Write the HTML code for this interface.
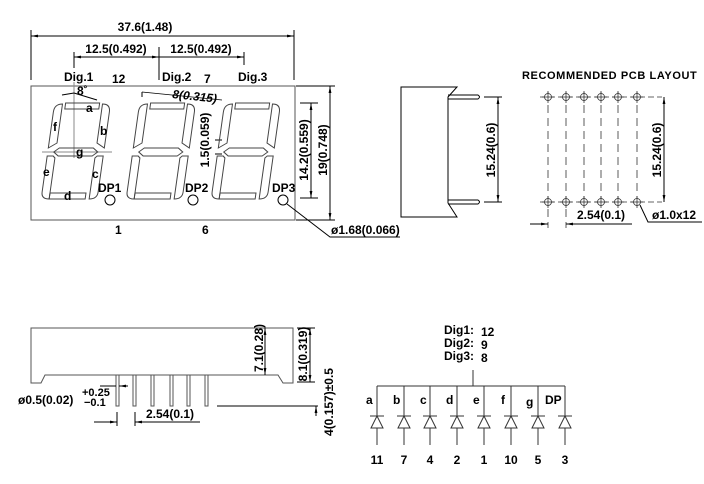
<!DOCTYPE html>
<html><head><meta charset="utf-8"><style>
html,body{margin:0;padding:0;background:#fff;}
svg{display:block;}
text{font-family:"Liberation Sans",sans-serif;fill:#000;font-weight:bold;}
</style></head><body>
<svg width="704" height="484" viewBox="0 0 704 484" xmlns="http://www.w3.org/2000/svg">
<defs>
<marker id="ar" viewBox="0 0 10 10" refX="10" refY="5" markerWidth="7" markerHeight="7" orient="auto-start-reverse"><path d="M0,3 L10,5 L0,7 Z" fill="#000"/></marker>
<g id="dig" fill="none" stroke="#444" stroke-width="1">
<rect x="13" y="-97" width="34" height="6"/>
<rect x="10" y="-7" width="36" height="6"/>
<path d="M8,-48 L13,-52 L47,-52 L52,-48 L47,-44 L13,-44 Z"/>
<path d="M2,-52 L2,-88 Q2,-96 10,-96 L10,-57 Z"/>
<path d="M58,-52 L58,-88 Q58,-96 50,-96 L50,-57 Z"/>
<path d="M2,-44 L8,-44 L10,-42 L10,-1 Q2,-1 2,-8 Z"/>
<path d="M58,-44 L52,-44 L50,-42 L50,-1 Q58,-1 58,-8 Z"/>
</g>
<g id="hole" fill="#fff" stroke="#333" stroke-width="0.8"><circle r="3.5"/><line x1="-6" y1="0" x2="6" y2="0"/><line x1="0" y1="-6" x2="0" y2="6"/></g>
</defs>
<g stroke="#000" stroke-width="1" fill="none">
<rect x="31" y="86" width="264" height="134" stroke="#555"/>
<line x1="31" y1="36" x2="294" y2="36" marker-start="url(#ar)" marker-end="url(#ar)"/>
<line x1="31" y1="30" x2="31" y2="80"/><line x1="294" y1="30" x2="294" y2="80"/>
<line x1="74" y1="57" x2="159" y2="57" marker-start="url(#ar)" marker-end="url(#ar)"/>
<line x1="159" y1="57" x2="244" y2="57" marker-end="url(#ar)"/>
<line x1="74" y1="52" x2="74" y2="68"/><line x1="159" y1="47" x2="159" y2="80"/><line x1="244" y1="52" x2="244" y2="65"/>
<line x1="74" y1="82" x2="74" y2="158" stroke="#888"/>
<line x1="42" y1="152" x2="112" y2="152" stroke="#888"/>
<line x1="62" y1="95" x2="74" y2="93"/><line x1="74" y1="93" x2="97" y2="100"/>
<line x1="142" y1="92" x2="222" y2="100" stroke-width="0.8"/>
<line x1="142" y1="92" x2="142" y2="97"/>
<line x1="215" y1="140" x2="222" y2="140"/><line x1="215" y1="154" x2="222" y2="154"/>
<line x1="296" y1="86" x2="335" y2="86"/><line x1="296" y1="220" x2="335" y2="220"/>
<line x1="300" y1="103" x2="318" y2="103"/><line x1="300" y1="198" x2="318" y2="198"/>
<line x1="311" y1="103" x2="311" y2="198" marker-start="url(#ar)" marker-end="url(#ar)"/>
<line x1="330" y1="86" x2="330" y2="220" marker-start="url(#ar)" marker-end="url(#ar)"/>
<circle cx="110" cy="200" r="5"/><circle cx="193" cy="200" r="5"/><circle cx="283" cy="200" r="5"/>
<polyline points="287,204 330,237 400,237"/>
<path d="M401,87 L457,87 L448,97 L448,203 L457,217 L401,217 Z"/>
<path d="M448,95 L478,95 Q481,97 478,99 L448,99"/>
<path d="M448,200 L478,200 Q481,202 478,204 L448,204"/>
<line x1="484" y1="97" x2="502" y2="97"/><line x1="484" y1="202" x2="502" y2="202"/>
<line x1="498" y1="97" x2="498" y2="202" marker-start="url(#ar)" marker-end="url(#ar)"/>
<g stroke="#333" stroke-width="0.8">
<line x1="540" y1="97" x2="662" y2="97" stroke-dasharray="6,3"/>
<line x1="540" y1="202" x2="662" y2="202" stroke-dasharray="6,3"/>
<g stroke-dasharray="8,5">
<line x1="548" y1="92" x2="548" y2="228"/><line x1="566" y1="92" x2="566" y2="228"/>
<line x1="584" y1="92" x2="584" y2="208"/><line x1="601" y1="92" x2="601" y2="208"/>
<line x1="618" y1="92" x2="618" y2="208"/><line x1="637" y1="92" x2="637" y2="208"/>
</g>
</g>
<line x1="664" y1="97" x2="664" y2="202" marker-start="url(#ar)" marker-end="url(#ar)"/>
<line x1="530" y1="224" x2="548" y2="224" marker-end="url(#ar)"/>
<line x1="566" y1="224" x2="632" y2="224" marker-start="url(#ar)"/>
<polyline points="640,205 648,222 702,222"/>
<path d="M31,328 L293,328 L293,383 L283,383 L278,375 L45,375 L41,383 L31,383 Z" stroke="#555"/>
<g stroke="#555">
<rect x="116" y="375" width="3" height="31"/><rect x="133" y="375" width="3" height="31"/><rect x="151" y="375" width="3" height="31"/>
<rect x="170" y="375" width="3" height="31"/><rect x="187" y="375" width="3" height="31"/><rect x="205" y="375" width="3" height="31"/>
</g>
<line x1="265" y1="328" x2="265" y2="375" marker-start="url(#ar)" marker-end="url(#ar)"/>
<line x1="297" y1="328" x2="315" y2="328"/><line x1="297" y1="382" x2="315" y2="382"/>
<line x1="310" y1="328" x2="310" y2="382" marker-start="url(#ar)" marker-end="url(#ar)"/>
<line x1="217" y1="406" x2="318" y2="406"/>
<line x1="316" y1="406" x2="316" y2="416" marker-start="url(#ar)"/>
<line x1="100" y1="386" x2="116" y2="386"/>
<line x1="119" y1="386" x2="128" y2="386" marker-start="url(#ar)"/>
<line x1="94" y1="422" x2="117" y2="422" marker-end="url(#ar)"/>
<line x1="117" y1="412" x2="117" y2="426"/><line x1="135" y1="412" x2="135" y2="426"/>
<line x1="135" y1="422" x2="200" y2="422" marker-start="url(#ar)"/>
<g stroke="#333">
<line x1="473" y1="370" x2="473" y2="386"/>
<line x1="377" y1="386" x2="565" y2="386"/>
</g>
</g>
<use href="#hole" x="548" y="97"/><use href="#hole" x="566" y="97"/><use href="#hole" x="584" y="97"/><use href="#hole" x="601" y="97"/><use href="#hole" x="618" y="97"/><use href="#hole" x="637" y="97"/>
<use href="#hole" x="548" y="202"/><use href="#hole" x="566" y="202"/><use href="#hole" x="584" y="202"/><use href="#hole" x="601" y="202"/><use href="#hole" x="618" y="202"/><use href="#hole" x="637" y="202"/>
<g transform="translate(39,200) skewX(-8)"><use href="#dig"/></g>
<g transform="translate(124,200) skewX(-8)"><use href="#dig"/></g>
<g transform="translate(209,200) skewX(-8)"><use href="#dig"/></g>
<g stroke="#333" fill="none">
<g id="dio"><line x1="377" y1="386" x2="377" y2="445"/><line x1="370" y1="416" x2="384" y2="416"/><path d="M377,416 L371,428 L383,428 Z" fill="#fff"/></g>
<use href="#dio" x="27"/><use href="#dio" x="53"/><use href="#dio" x="80"/><use href="#dio" x="107"/><use href="#dio" x="134"/><use href="#dio" x="161"/><use href="#dio" x="188"/>
</g>
<g font-size="12">
<text x="145" y="31" text-anchor="middle">37.6(1.48)</text>
<text x="116" y="53" text-anchor="middle">12.5(0.492)</text>
<text x="201" y="53" text-anchor="middle">12.5(0.492)</text>
<text x="64" y="81">Dig.1</text><text x="112" y="83">12</text>
<text x="162" y="81">Dig.2</text><text x="204" y="83">7</text>
<text x="238" y="81">Dig.3</text>
<text x="77" y="95">8˚</text>
<text x="172" y="98" transform="rotate(6 172 98)" font-style="italic">8(0.315)</text>
<text x="86" y="112">a</text><text x="53" y="131">f</text><text x="100" y="135">b</text>
<text x="76" y="156">g</text><text x="43" y="176">e</text><text x="92" y="178">c</text><text x="64" y="200">d</text>
<text x="98" y="192">DP1</text><text x="185" y="192">DP2</text><text x="272" y="192">DP3</text>
<text x="115" y="234">1</text><text x="202" y="234">6</text>
<text transform="translate(209,140) rotate(-90)" text-anchor="middle">1.5(0.059)</text>
<text transform="translate(308,150) rotate(-90)" text-anchor="middle">14.2(0.559)</text>
<text transform="translate(327,150) rotate(-90)" text-anchor="middle">19(0.748)</text>
<text x="331" y="234">ø1.68(0.066)</text>
<text transform="translate(495,150) rotate(-90)" text-anchor="middle">15.24(0.6)</text>
<text x="522" y="79" font-size="11" letter-spacing="0.6">RECOMMENDED PCB LAYOUT</text>
<text transform="translate(661,150) rotate(-90)" text-anchor="middle">15.24(0.6)</text>
<text x="577" y="219">2.54(0.1)</text>
<text x="652" y="219">ø1.0x12</text>
<text transform="translate(263,348) rotate(-90)" text-anchor="middle">7.1(0.28)</text>
<text transform="translate(307,354) rotate(-90)" text-anchor="middle">8.1(0.319)</text>
<text transform="translate(333,402) rotate(-90)" text-anchor="middle">4(0.157)±0.5</text>
<text x="18" y="404">ø0.5(0.02)</text>
<text x="82" y="396" font-size="11">+0.25</text><text x="84" y="406" font-size="11">−0.1</text>
<text x="146" y="418">2.54(0.1)</text>
<text x="444" y="334">Dig1:</text><text x="481" y="336">12</text>
<text x="444" y="347">Dig2:</text><text x="481" y="349">9</text>
<text x="444" y="360">Dig3:</text><text x="481" y="362">8</text>
<text x="366" y="404">a</text><text x="393" y="404">b</text><text x="420" y="404">c</text><text x="446" y="404">d</text>
<text x="473" y="404">e</text><text x="501" y="404">f</text><text x="526" y="406">g</text><text x="545" y="404">DP</text>
<text x="377" y="464" text-anchor="middle">11</text><text x="404" y="464" text-anchor="middle">7</text>
<text x="430" y="464" text-anchor="middle">4</text><text x="457" y="464" text-anchor="middle">2</text>
<text x="484" y="464" text-anchor="middle">1</text><text x="511" y="464" text-anchor="middle">10</text>
<text x="538" y="464" text-anchor="middle">5</text><text x="565" y="464" text-anchor="middle">3</text>
</g>
</svg>
</body></html>
